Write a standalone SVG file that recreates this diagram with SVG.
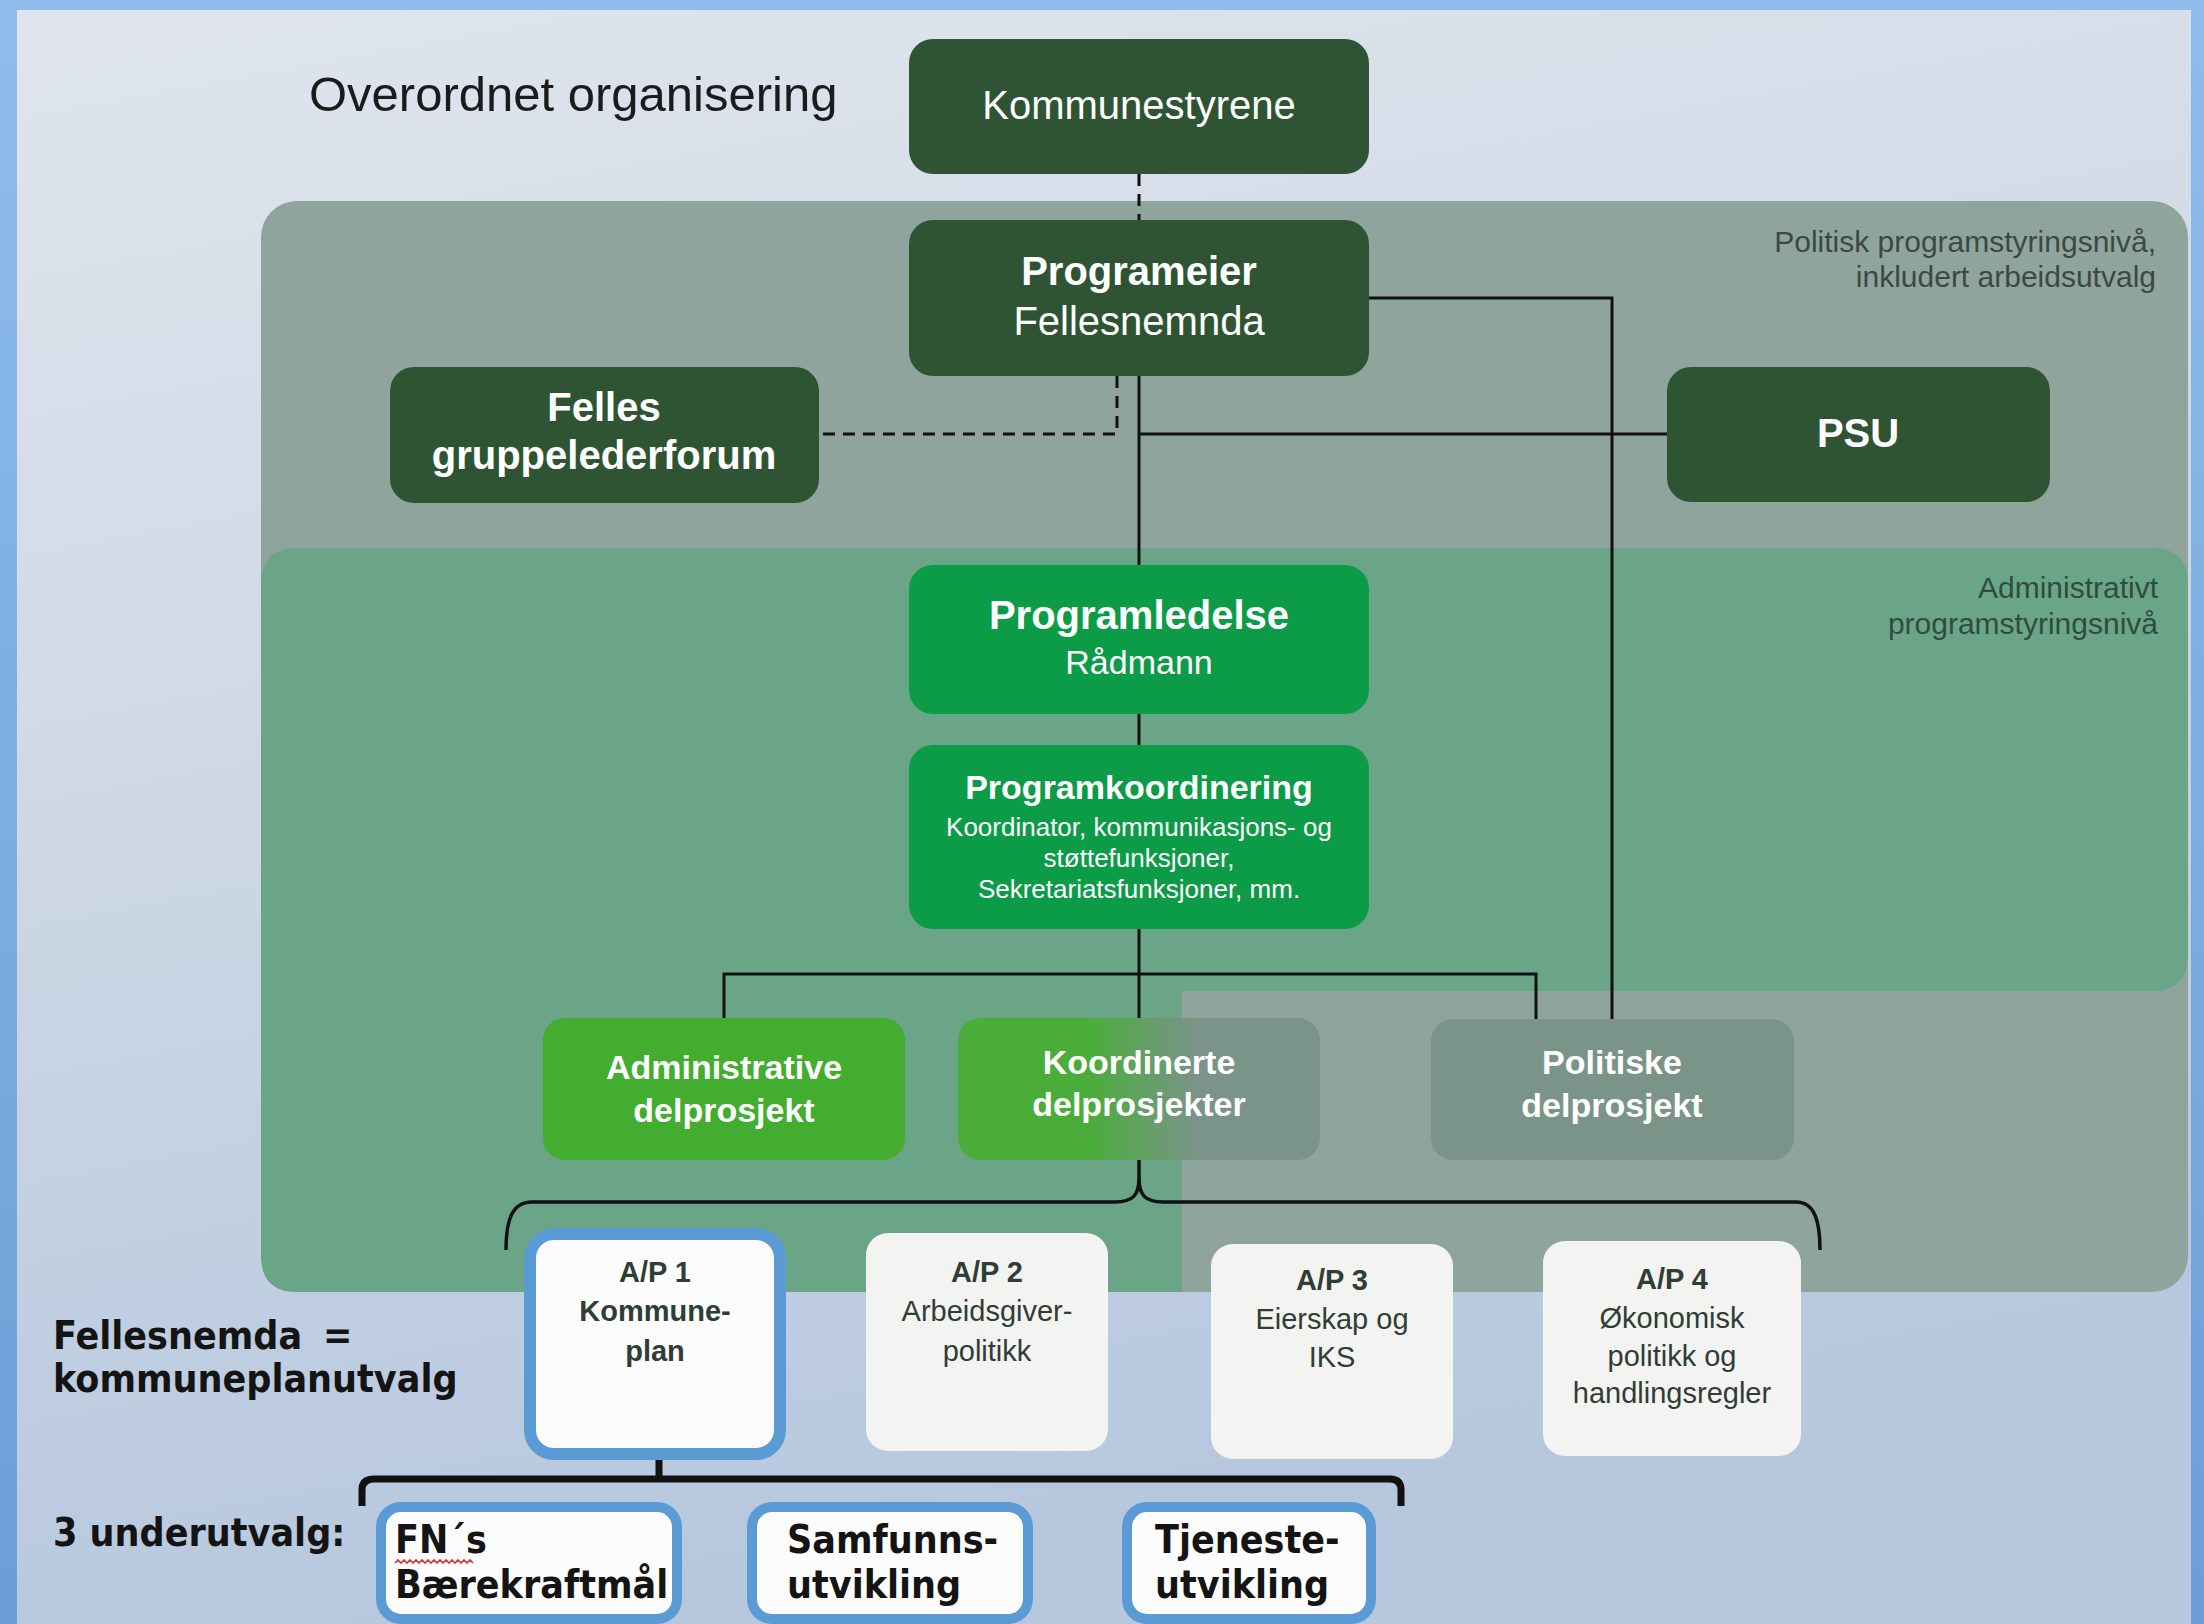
<svg xmlns="http://www.w3.org/2000/svg" width="2204" height="1624" viewBox="0 0 2204 1624">
<defs>
  <linearGradient id="frame" x1="0" y1="0" x2="0" y2="1">
    <stop offset="0" stop-color="#8ebcec"/>
    <stop offset="1" stop-color="#6c9ed6"/>
  </linearGradient>
  <linearGradient id="bg" x1="0" y1="0" x2="0.25" y2="1">
    <stop offset="0" stop-color="#e0e5ed"/>
    <stop offset="0.5" stop-color="#cdd7e5"/>
    <stop offset="1" stop-color="#b6c7de"/>
  </linearGradient>
  <linearGradient id="koord" x1="958" y1="0" x2="1320" y2="0" gradientUnits="userSpaceOnUse">
    <stop offset="0.36" stop-color="#4aad3a"/>
    <stop offset="0.66" stop-color="#7a9489"/>
  </linearGradient>
</defs>
<style>
  .dk{fill:#2e5434}
  .br{fill:#0c9b47}
  .t{font-family:"Liberation Sans",Arial,sans-serif;text-anchor:middle}
  .w{fill:#ffffff}
  .b{font-weight:bold}
  .s40{font-size:40px}
  .s34{font-size:34px}
  .s26{font-size:26px}
  .s29{font-size:29px}
  .note{font-family:"Liberation Sans",Arial,sans-serif;font-size:30px;text-anchor:end}
  .ln{fill:none;stroke:#111111;stroke-width:3}
  .brace{fill:none;stroke:#111111;stroke-width:3.5}
  .brace2{fill:none;stroke:#111111;stroke-width:7}
  .dash{stroke-dasharray:12 8}
  .ap{fill:#f3f3f1}
  .apt{fill:#2f3d35}
  .blue{fill:#fcfcfc;stroke:#5b9bd5}
  .lbl{font-family:"DejaVu Sans Condensed","DejaVu Sans",sans-serif;font-weight:bold;font-size:39px;fill:#141414}
</style>

<!-- background -->
<rect x="0" y="0" width="2204" height="1624" fill="url(#frame)"/>
<rect x="17" y="10" width="2174" height="1614" fill="url(#bg)"/>

<!-- panels -->
<g id="panel-politisk">
  <rect x="261" y="201" width="1927" height="1091" rx="36" fill="#8fa49d"/>
  <text class="note" x="2156" y="252" fill="#3b4943">Politisk programstyringsnivå,</text>
  <text class="note" x="2156" y="287" fill="#3b4943">inkludert arbeidsutvalg</text>
</g>
<g id="panel-administrativt">
  <path d="M297,548 H2152 Q2188,548 2188,584 V955 Q2188,991 2152,991 H1182 V1292 H297 Q261,1292 261,1256 V584 Q261,548 297,548 Z" fill="#6aa587"/>
  <text class="note" x="2158" y="598" fill="#2f4d3f">Administrativt</text>
  <text class="note" x="2158" y="634" fill="#2f4d3f">programstyringsnivå</text>
</g>

<text id="title" x="309" y="111" font-family="'Liberation Sans',Arial,sans-serif" font-size="49" fill="#1b1b1b">Overordnet organisering</text>

<!-- connectors -->
<g id="connectors">
  <path class="ln dash" d="M1139,174 V220"/>
  <path class="ln dash" d="M1117,376 V434 H822"/>
  <path class="ln" d="M1139,376 V565"/>
  <path class="ln" d="M1139,434 H1667"/>
  <path class="ln" d="M1369,298 H1612 V1019"/>
  <path class="ln" d="M1139,714 V745"/>
  <path class="ln" d="M1139,929 V1018"/>
  <path class="ln" d="M724,1018 V974 H1536 V1019"/>
  <path class="brace" d="M506,1250 C506,1222 511,1202 532,1202 L1115,1202 C1133,1202 1139,1195 1139,1178 L1139,1160"/>
  <path class="brace" d="M1139,1178 C1139,1195 1145,1202 1163,1202 L1796,1202 C1815,1202 1820,1222 1820,1250"/>
  <path class="brace2" d="M362,1506 V1490 Q362,1479 374,1479 H1390 Q1401,1479 1401,1490 V1506"/>
  <path class="brace2" d="M659,1460 V1479"/>
</g>

<!-- nodes -->
<g id="kommunestyrene">
  <rect class="dk" x="909" y="39" width="460" height="135" rx="24"/>
  <text class="t w s40" x="1139" y="119">Kommunestyrene</text>
</g>
<g id="programeier">
  <rect class="dk" x="909" y="220" width="460" height="156" rx="24"/>
  <text class="t w s40 b" x="1139" y="285">Programeier</text>
  <text class="t w s40" x="1139" y="335">Fellesnemnda</text>
</g>
<g id="felles-gruppelederforum">
  <rect class="dk" x="390" y="367" width="429" height="136" rx="24"/>
  <text class="t w s40 b" x="604" y="421">Felles</text>
  <text class="t w s40 b" x="604" y="469">gruppelederforum</text>
</g>
<g id="psu">
  <rect class="dk" x="1667" y="367" width="383" height="135" rx="24"/>
  <text class="t w s40 b" x="1858" y="447">PSU</text>
</g>
<g id="programledelse">
  <rect class="br" x="909" y="565" width="460" height="149" rx="24"/>
  <text class="t w s40 b" x="1139" y="629">Programledelse</text>
  <text class="t w s34" x="1139" y="674">Rådmann</text>
</g>
<g id="programkoordinering">
  <rect class="br" x="909" y="745" width="460" height="184" rx="24"/>
  <text class="t w s34 b" x="1139" y="799">Programkoordinering</text>
  <text class="t w s26" x="1139" y="836">Koordinator, kommunikasjons- og</text>
  <text class="t w s26" x="1139" y="867">støttefunksjoner,</text>
  <text class="t w s26" x="1139" y="898">Sekretariatsfunksjoner, mm.</text>
</g>
<g id="administrative-delprosjekt">
  <rect x="543" y="1018" width="362" height="142" rx="22" fill="#42ad2e"/>
  <text class="t w s34 b" x="724" y="1079">Administrative</text>
  <text class="t w s34 b" x="724" y="1122">delprosjekt</text>
</g>
<g id="koordinerte-delprosjekter">
  <rect x="958" y="1018" width="362" height="142" rx="22" fill="url(#koord)"/>
  <text class="t w s34 b" x="1139" y="1074">Koordinerte</text>
  <text class="t w s34 b" x="1139" y="1116">delprosjekter</text>
</g>
<g id="politiske-delprosjekt">
  <rect x="1431" y="1019" width="363" height="141" rx="22" fill="#7b9489"/>
  <text class="t w s34 b" x="1612" y="1074">Politiske</text>
  <text class="t w s34 b" x="1612" y="1117">delprosjekt</text>
</g>

<g id="ap1">
  <rect class="blue" x="530" y="1234" width="250" height="220" rx="24" stroke-width="12"/>
  <text class="t s29 b apt" x="655" y="1282">A/P 1</text>
  <text class="t s29 b apt" x="655" y="1321">Kommune-</text>
  <text class="t s29 b apt" x="655" y="1361">plan</text>
</g>
<g id="ap2">
  <rect class="ap" x="866" y="1233" width="242" height="218" rx="22"/>
  <text class="t s29 b apt" x="987" y="1282">A/P 2</text>
  <text class="t s29 apt" x="987" y="1321">Arbeidsgiver-</text>
  <text class="t s29 apt" x="987" y="1361">politikk</text>
</g>
<g id="ap3">
  <rect class="ap" x="1211" y="1244" width="242" height="215" rx="22"/>
  <text class="t s29 b apt" x="1332" y="1290">A/P 3</text>
  <text class="t s29 apt" x="1332" y="1329">Eierskap og</text>
  <text class="t s29 apt" x="1332" y="1367">IKS</text>
</g>
<g id="ap4">
  <rect class="ap" x="1543" y="1241" width="258" height="215" rx="22"/>
  <text class="t s29 b apt" x="1672" y="1289">A/P 4</text>
  <text class="t s29 apt" x="1672" y="1328">Økonomisk</text>
  <text class="t s29 apt" x="1672" y="1366">politikk og</text>
  <text class="t s29 apt" x="1672" y="1403">handlingsregler</text>
</g>

<g id="labels">
  <text class="lbl" x="53" y="1349">Fellesnemda <tspan x="323">=</tspan></text>
  <text class="lbl" x="53" y="1392">kommuneplanutvalg</text>
  <text class="lbl" x="53" y="1546">3 underutvalg:</text>
</g>

<g id="fn-baerekraftmal">
  <rect class="blue" x="381" y="1507" width="296" height="112" rx="20" stroke-width="10"/>
  <text class="lbl" x="395" y="1553">FN´s</text>
  <path d="M395,1563 l3,-3 l3,3 l3,-3 l3,3 l3,-3 l3,3 l3,-3 l3,3 l3,-3 l3,3 l3,-3 l3,3 l3,-3 l3,3 l3,-3 l3,3 l3,-3 l3,3 l3,-3 l3,3 l3,-3 l3,3 l3,-3 l3,3 l3,-3 l3,3" fill="none" stroke="#d43a3a" stroke-width="1.6"/>
  <text class="lbl" x="395" y="1598">Bærekraftmål</text>
</g>
<g id="samfunnsutvikling">
  <rect class="blue" x="752" y="1507" width="276" height="112" rx="20" stroke-width="10"/>
  <text class="lbl" x="787" y="1553">Samfunns-</text>
  <text class="lbl" x="787" y="1598">utvikling</text>
</g>
<g id="tjenesteutvikling">
  <rect class="blue" x="1127" y="1507" width="244" height="112" rx="20" stroke-width="10"/>
  <text class="lbl" x="1155" y="1553">Tjeneste-</text>
  <text class="lbl" x="1155" y="1598">utvikling</text>
</g>
</svg>
